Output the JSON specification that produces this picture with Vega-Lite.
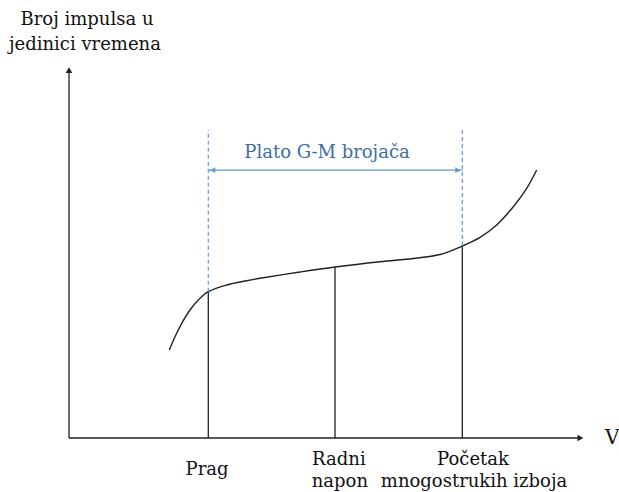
{
  "$schema": "https://vega.github.io/schema/vega-lite/v6.json",
  "width": 514,
  "height": 372,
  "autosize": {"type": "none"},
  "padding": {"left": 69, "top": 66, "right": 36, "bottom": 54},
  "background": "white",
  "config": {"view": {"stroke": null}, "text": {"font": "DejaVu Serif"}},
  "datasets": {
    "curve": [
      {"v": 19.51, "n": 23.66},
      {"v": 20.62, "n": 27.23},
      {"v": 21.93, "n": 30.83},
      {"v": 23.54, "n": 34.41},
      {"v": 25.16, "n": 37.1},
      {"v": 27.1, "n": 39.33},
      {"v": 30.68, "n": 41.13},
      {"v": 34.57, "n": 42.28},
      {"v": 37.16, "n": 42.93},
      {"v": 44.94, "n": 44.62},
      {"v": 51.75, "n": 45.97},
      {"v": 60.51, "n": 47.39},
      {"v": 66.98, "n": 48.25},
      {"v": 72.18, "n": 49.33},
      {"v": 76.52, "n": 51.61},
      {"v": 79.96, "n": 53.95},
      {"v": 83.21, "n": 57.26},
      {"v": 86.44, "n": 62.18},
      {"v": 89.05, "n": 67.12},
      {"v": 90.99, "n": 72.04}
    ],
    "verticals": [
      {"v": 27.1, "n0": 0, "n1": 39.33},
      {"v": 51.75, "n0": 0, "n1": 45.97},
      {"v": 76.52, "n0": 0, "n1": 51.61}
    ],
    "dashed": [
      {"v": 27.1, "n0": 39.33, "n1": 82.8},
      {"v": 76.52, "n0": 51.61, "n1": 82.8}
    ],
    "axes": [
      {"v0": 0, "n0": 0, "v1": 0, "n1": 98.5},
      {"v0": 0, "n0": 0, "v1": 99.3, "n1": 0}
    ]
  },
  "layer": [
    {
      "data": {"name": "axes"},
      "mark": {"type": "rule", "color": "#222222", "strokeWidth": 1.3},
      "encoding": {
        "x": {"field": "v0", "type": "quantitative", "scale": {"domain": [0, 100]}, "axis": null},
        "y": {"field": "n0", "type": "quantitative", "scale": {"domain": [0, 100]}, "axis": null},
        "x2": {"field": "v1"},
        "y2": {"field": "n1"}
      }
    },
    {
      "data": {"values": [{"v": 0, "n": 98.9}]},
      "mark": {"type": "point", "shape": "triangle-up", "filled": true, "color": "#222222", "size": 45, "opacity": 1},
      "encoding": {
        "x": {"field": "v", "type": "quantitative"},
        "y": {"field": "n", "type": "quantitative"}
      }
    },
    {
      "data": {"values": [{"v": 99.5, "n": 0}]},
      "mark": {"type": "point", "shape": "triangle-right", "filled": true, "color": "#222222", "size": 45, "opacity": 1},
      "encoding": {
        "x": {"field": "v", "type": "quantitative"},
        "y": {"field": "n", "type": "quantitative"}
      }
    },
    {
      "data": {"name": "curve"},
      "mark": {"type": "line", "color": "#222222", "strokeWidth": 1.4, "interpolate": "catmull-rom"},
      "encoding": {
        "x": {"field": "v", "type": "quantitative"},
        "y": {"field": "n", "type": "quantitative"}
      }
    },
    {
      "data": {"name": "verticals"},
      "mark": {"type": "rule", "color": "#222222", "strokeWidth": 1.3},
      "encoding": {
        "x": {"field": "v", "type": "quantitative"},
        "y": {"field": "n0", "type": "quantitative"},
        "y2": {"field": "n1"}
      }
    },
    {
      "data": {"name": "dashed"},
      "mark": {"type": "rule", "color": "#5b9bd5", "strokeWidth": 1.2, "strokeDash": [4, 3]},
      "encoding": {
        "x": {"field": "v", "type": "quantitative"},
        "y": {"field": "n0", "type": "quantitative"},
        "y2": {"field": "n1"}
      }
    },
    {
      "data": {"values": [{"v0": 27.1, "v1": 76.52, "n": 72.0}]},
      "mark": {"type": "rule", "color": "#5b9bd5", "strokeWidth": 1.2},
      "encoding": {
        "x": {"field": "v0", "type": "quantitative"},
        "x2": {"field": "v1"},
        "y": {"field": "n", "type": "quantitative"}
      }
    },
    {
      "data": {"values": [{"v": 27.95, "n": 72.0}]},
      "mark": {"type": "point", "shape": "triangle-left", "filled": true, "color": "#5b9bd5", "size": 35, "opacity": 1},
      "encoding": {
        "x": {"field": "v", "type": "quantitative"},
        "y": {"field": "n", "type": "quantitative"}
      }
    },
    {
      "data": {"values": [{"v": 75.65, "n": 72.0}]},
      "mark": {"type": "point", "shape": "triangle-right", "filled": true, "color": "#5b9bd5", "size": 35, "opacity": 1},
      "encoding": {
        "x": {"field": "v", "type": "quantitative"},
        "y": {"field": "n", "type": "quantitative"}
      }
    },
    {
      "data": {"values": [{"v": 50.2, "n": 76.6, "label": "Plato G-M brojača"}]},
      "mark": {"type": "text", "fontSize": 18, "color": "#3a6ea5", "align": "center", "baseline": "middle"},
      "encoding": {
        "x": {"field": "v", "type": "quantitative"},
        "y": {"field": "n", "type": "quantitative"},
        "text": {"field": "label"}
      }
    },
    {
      "data": {"values": [
        {"v": 3.5, "n": 112.4, "label": "Broj impulsa u"},
        {"v": 3.1, "n": 105.6, "label": "jedinici vremena"}
      ]},
      "mark": {"type": "text", "fontSize": 18, "color": "#111111", "align": "center", "baseline": "middle"},
      "encoding": {
        "x": {"field": "v", "type": "quantitative"},
        "y": {"field": "n", "type": "quantitative"},
        "text": {"field": "label"}
      }
    },
    {
      "data": {"values": [
        {"v": 26.85, "n": -8.6, "label": "Prag"},
        {"v": 52.5, "n": -5.9, "label": "Radni"},
        {"v": 52.7, "n": -11.8, "label": "napon"},
        {"v": 78.6, "n": -5.9, "label": "Početak"},
        {"v": 78.8, "n": -11.8, "label": "mnogostrukih izboja"}
      ]},
      "mark": {"type": "text", "fontSize": 18, "color": "#111111", "align": "center", "baseline": "middle"},
      "encoding": {
        "x": {"field": "v", "type": "quantitative"},
        "y": {"field": "n", "type": "quantitative"},
        "text": {"field": "label"}
      }
    },
    {
      "data": {"values": [{"v": 104.3, "n": 0, "label": "V"}]},
      "mark": {"type": "text", "fontSize": 20, "color": "#111111", "align": "left", "baseline": "middle"},
      "encoding": {
        "x": {"field": "v", "type": "quantitative"},
        "y": {"field": "n", "type": "quantitative"},
        "text": {"field": "label"}
      }
    }
  ]
}
